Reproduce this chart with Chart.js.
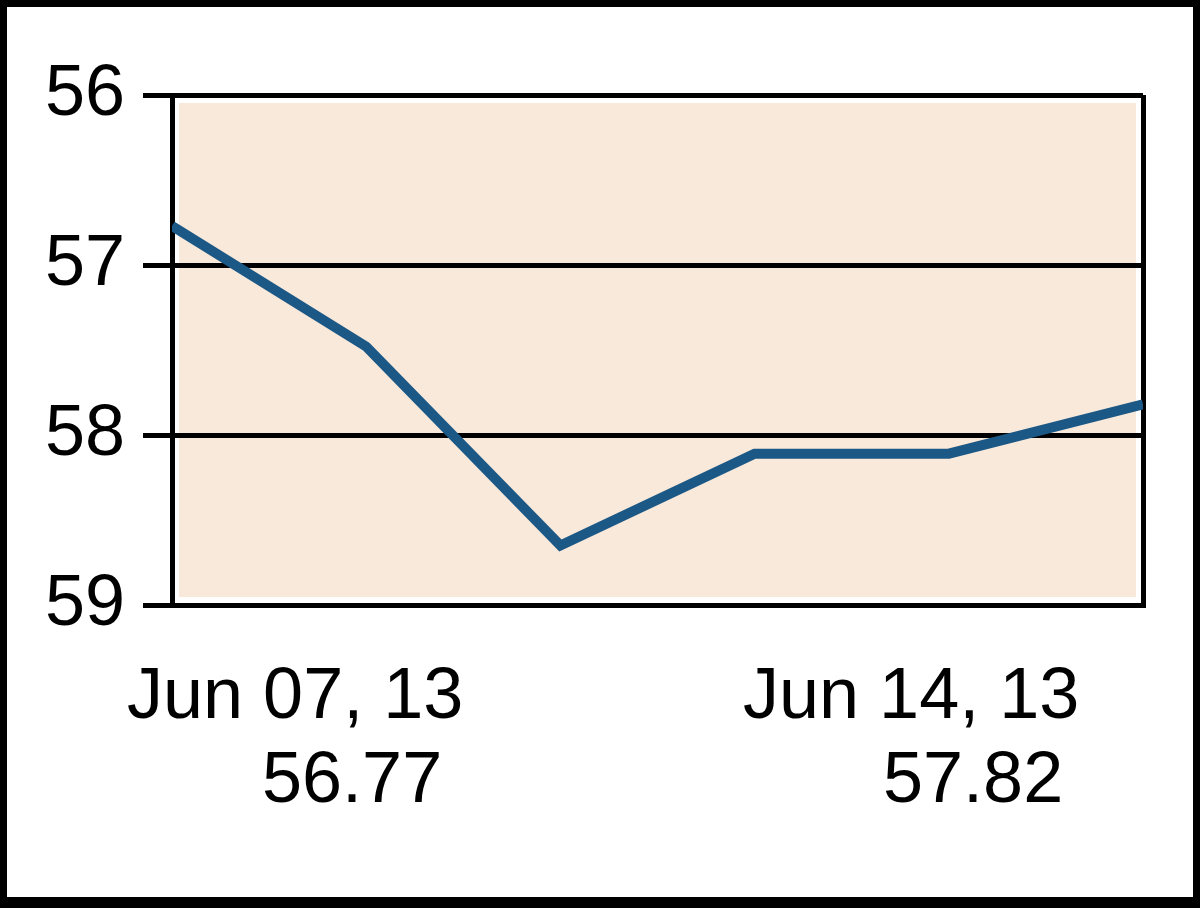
<!DOCTYPE html>
<html>
<head>
<meta charset="utf-8">
<script src="https://cdn.jsdelivr.net/npm/chart.js@4/dist/chart.umd.min.js"></script>
<style>
  html, body { margin: 0; padding: 0; background: #fff; }
  #frame { position: absolute; left: 0; top: 0; width: 1200px; height: 908px; box-sizing: border-box;
           border-style: solid; border-color: #000; border-width: 7px 7px 11px 7px; background: #fff; }
  #c { position: absolute; left: 0; top: 0; }
  .lbl { position: absolute; font-family: "Liberation Sans", Arial, sans-serif; font-size: 72px;
         line-height: 72px; color: #000; white-space: pre; }
</style>
</head>
<body>
<div id="frame"></div>
<canvas id="c" width="1200" height="908"></canvas>
<div class="lbl" id="d0" style="left:127px; top:657px;"></div>
<div class="lbl" id="v0" style="left:262px; top:741px;"></div>
<div class="lbl" id="d1" style="left:743px; top:657px;"></div>
<div class="lbl" id="v1" style="left:883px; top:741px;"></div>
<script>
const dates = ["Jun 07, 13", "Jun 10, 13", "Jun 11, 13", "Jun 12, 13", "Jun 13, 13", "Jun 14, 13"];
const prices = [56.77, 57.48, 58.65, 58.11, 58.11, 57.82];
const yTicks = [56, 57, 58, 59];

document.getElementById('d0').textContent = dates[0];
document.getElementById('v0').textContent = prices[0].toFixed(2);
document.getElementById('d1').textContent = dates[dates.length - 1];
document.getElementById('v1').textContent = prices[prices.length - 1].toFixed(2);

const plotBg = {
  id: 'plotBg',
  beforeDraw(chart) {
    const a = chart.chartArea, ctx = chart.ctx;
    ctx.save();
    ctx.fillStyle = '#ffffff';
    ctx.fillRect(a.left, a.top, a.right - a.left, a.bottom - a.top);
    ctx.fillStyle = 'rgb(249,233,218)';
    ctx.fillRect(a.left + 7, a.top + 8, a.right - a.left - 14, a.bottom - a.top - 16);
    ctx.restore();
  }
};

new Chart(document.getElementById('c'), {
  type: 'line',
  data: {
    datasets: [{
      data: prices.map((v, i) => ({ x: i, y: v })),
      borderColor: 'rgb(28,88,134)',
      borderWidth: 10,
      pointRadius: 0,
      tension: 0,
      fill: false
    }]
  },
  options: {
    responsive: false,
    animation: false,
    devicePixelRatio: 1,
    layout: { padding: { top: 95, right: 57, bottom: 303, left: 0 } },
    plugins: { legend: { display: false }, tooltip: { enabled: false } },
    scales: {
      x: {
        type: 'linear', min: 0, max: dates.length - 1,
        ticks: { display: false, stepSize: dates.length - 1 },
        grid: { color: '#000', lineWidth: 5, drawTicks: false },
        border: { display: true, color: '#000', width: 5 },
        afterFit(s) { s.height = 0; }
      },
      y: {
        reverse: true, min: yTicks[0], max: yTicks[yTicks.length - 1],
        afterBuildTicks(s) { s.ticks = yTicks.map(v => ({ value: v })); },
        ticks: {
          color: '#000', padding: 18,
          font: { family: '"Liberation Sans", Arial, sans-serif', size: 72 },
          callback: v => String(v)
        },
        grid: { color: '#000', lineWidth: 5, tickLength: 29 },
        border: { display: true, color: '#000', width: 5 },
        afterFit(s) { s.width = 172; }
      }
    }
  },
  plugins: [plotBg]
});
</script>
</body>
</html>
